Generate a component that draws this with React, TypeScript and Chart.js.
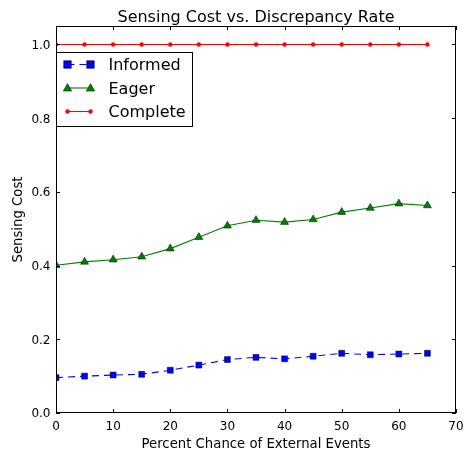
import React, { useEffect, useRef } from "react";
import { Chart, registerables } from "chart.js";
Chart.register(...registerables);

const chartTitle = "Sensing Cost vs. Discrepancy Rate";
const xAxisLabel = "Percent Chance of External Events";
const yAxisLabel = "Sensing Cost";
const xValues = [0, 5, 10, 15, 20, 25, 30, 35, 40, 45, 50, 55, 60, 65];
const informedValues = [0.096, 0.1, 0.103, 0.105, 0.116, 0.13, 0.145, 0.151, 0.147, 0.154, 0.162, 0.158, 0.16, 0.162];
const eagerValues = [0.401, 0.41, 0.416, 0.424, 0.446, 0.477, 0.508, 0.523, 0.518, 0.525, 0.545, 0.556, 0.568, 0.563];
const completeValues = [1.0, 1.0, 1.0, 1.0, 1.0, 1.0, 1.0, 1.0, 1.0, 1.0, 1.0, 1.0, 1.0, 1.0];
const xTicks = [0, 10, 20, 30, 40, 50, 60, 70];
const yTicks = [0.0, 0.2, 0.4, 0.6, 0.8, 1.0];

const FONT = "'DejaVu Sans', sans-serif";

type SeriesStyle = {
  label: string;
  color: string;
  dash: number[];
  marker: "rect" | "triangle" | "circle";
  radius: number;
};

const seriesStyles: SeriesStyle[] = [
  { label: "Informed", color: "#0000ff", dash: [7, 5], marker: "rect", radius: 3.8 },
  { label: "Eager", color: "#008000", dash: [], marker: "triangle", radius: 4.4 },
  { label: "Complete", color: "#ff0000", dash: [], marker: "circle", radius: 2.2 },
];

function drawMarker(ctx: CanvasRenderingContext2D, s: SeriesStyle, x: number, y: number) {
  ctx.save();
  ctx.setLineDash([]);
  ctx.fillStyle = s.color;
  ctx.strokeStyle = "#000";
  ctx.lineWidth = 0.5;
  ctx.beginPath();
  if (s.marker === "rect") {
    ctx.rect(x - s.radius, y - s.radius, s.radius * 2, s.radius * 2);
  } else if (s.marker === "triangle") {
    const r = s.radius;
    ctx.moveTo(x, y - r);
    ctx.lineTo(x + r * 0.95, y + r * 0.7);
    ctx.lineTo(x - r * 0.95, y + r * 0.7);
    ctx.closePath();
  } else {
    ctx.arc(x, y, s.radius, 0, Math.PI * 2);
  }
  ctx.fill();
  if (s.marker !== "circle") ctx.stroke();
  ctx.restore();
}

function text(
  ctx: CanvasRenderingContext2D,
  s: string,
  x: number,
  y: number,
  size: number,
  align: CanvasTextAlign,
  rotate = false
) {
  ctx.save();
  ctx.translate(x, y);
  if (rotate) ctx.rotate(-Math.PI / 2);
  ctx.fillStyle = "#000";
  ctx.font = `${size}px ${FONT}`;
  ctx.textAlign = align;
  ctx.textBaseline = "alphabetic";
  ctx.fillText(s, 0, 0);
  ctx.restore();
}

const framePlugin = {
  id: "frameAndLegend",
  afterDraw(chart: any) {
    const { ctx, chartArea: ca, scales } = chart;
    ctx.save();
    const cx = (ca.left + ca.right) / 2;
    const cy = (ca.top + ca.bottom) / 2;
    // title and axis titles
    text(ctx, chartTitle, cx, 22, 16, "center");
    text(ctx, xAxisLabel, cx, 447.5, 13.25, "center");
    text(ctx, yAxisLabel, 22, cy, 13.25, "center", true);
    // tick labels
    xTicks.forEach((v) => {
      text(ctx, String(v), scales.x.getPixelForValue(v), ca.bottom + 17, 12, "center");
    });
    yTicks.forEach((v) => {
      text(ctx, v.toFixed(1), ca.left - 5.5, scales.y.getPixelForValue(v) + 4.4, 12, "right");
    });
    // frame
    ctx.strokeStyle = "#000";
    ctx.lineWidth = 1;
    ctx.strokeRect(Math.round(ca.left) + 0.5, Math.round(ca.top) + 0.5, Math.round(ca.right - ca.left) - 1, Math.round(ca.bottom - ca.top) - 1);
    // inward ticks
    const tl = 4;
    ctx.beginPath();
    xTicks.forEach((v) => {
      const px = Math.round(scales.x.getPixelForValue(v)) + 0.5;
      ctx.moveTo(px, ca.bottom);
      ctx.lineTo(px, ca.bottom - tl);
      ctx.moveTo(px, ca.top);
      ctx.lineTo(px, ca.top + tl);
    });
    yTicks.forEach((v) => {
      const py = Math.round(scales.y.getPixelForValue(v)) + 0.5;
      ctx.moveTo(ca.left, py);
      ctx.lineTo(ca.left + tl, py);
      ctx.moveTo(ca.right, py);
      ctx.lineTo(ca.right - tl, py);
    });
    ctx.stroke();
    // legend
    const bx = Math.round(ca.left) + 0.5;
    const by = Math.round(ca.top) + 26.5;
    const bw = 136;
    const bh = 74;
    ctx.fillStyle = "#fff";
    ctx.fillRect(bx, by, bw, bh);
    ctx.strokeStyle = "#000";
    ctx.strokeRect(bx, by, bw, bh);
    seriesStyles.forEach((s, i) => {
      const y = by + 12 + i * 23.5;
      const x1 = bx + 11;
      const x2 = bx + 34;
      ctx.save();
      ctx.strokeStyle = s.color;
      ctx.lineWidth = 1.1;
      ctx.setLineDash(s.dash);
      ctx.beginPath();
      ctx.moveTo(x1, y);
      ctx.lineTo(x2, y);
      ctx.stroke();
      ctx.restore();
      drawMarker(ctx, s, x1, y);
      drawMarker(ctx, s, x2, y);
      text(ctx, s.label, bx + 52, y + 5.8, 16, "left");
    });
    ctx.restore();
  },
};

const pointStyleFor = (m: string) => (m === "rect" ? "rect" : m === "triangle" ? "triangle" : "circle");

export default function App() {
  const ref = useRef<HTMLCanvasElement>(null);
  useEffect(() => {
    document.body.style.margin = "0";
    const seriesValues = [informedValues, eagerValues, completeValues];
    const chart = new Chart(ref.current as HTMLCanvasElement, {
      type: "line",
      data: {
        datasets: seriesStyles.map((s, i) => ({
          label: s.label,
          data: xValues.map((x, j) => ({ x, y: seriesValues[i][j] })),
          borderColor: s.color,
          backgroundColor: s.color,
          borderWidth: 1.1,
          borderDash: s.dash,
          pointStyle: pointStyleFor(s.marker),
          pointRadius: s.marker === "rect" ? 4.2 : s.marker === "triangle" ? 4.6 : 2.2,
          pointBackgroundColor: s.color,
          pointBorderColor: s.marker === "circle" ? s.color : "#000",
          pointBorderWidth: s.marker === "circle" ? 0 : 0.5,
          pointHoverRadius: 0,
          tension: 0,
          fill: false,
        })),
      },
      options: {
        responsive: false,
        animation: false,
        devicePixelRatio: 1,
        events: [],
        layout: { padding: { left: 0, top: 26, right: 9, bottom: 0 } },
        plugins: { legend: { display: false }, title: { display: false }, tooltip: { enabled: false } },
        scales: {
          x: {
            type: "linear",
            min: 0,
            max: 70,
            afterBuildTicks: (scale: any) => {
              scale.ticks = xTicks.map((v) => ({ value: v }));
            },
            afterFit: (scale: any) => {
              scale.height = 40;
            },
            grid: { display: false },
            border: { display: false },
            ticks: { display: false },
            title: { display: false },
          },
          y: {
            type: "linear",
            min: 0,
            max: 1.05,
            afterBuildTicks: (scale: any) => {
              scale.ticks = yTicks.map((v) => ({ value: v }));
            },
            afterFit: (scale: any) => {
              scale.width = 56;
            },
            grid: { display: false },
            border: { display: false },
            ticks: { display: false },
            title: { display: false },
          },
        },
      },
      plugins: [framePlugin],
    } as any);
    return () => chart.destroy();
  }, []);
  return (
    <div style={{ position: "absolute", left: 0, top: 0, width: 465, height: 453, background: "#fff" }}>
      <canvas ref={ref} width={465} height={453} style={{ width: 465, height: 453, display: "block" }} />
    </div>
  );
}
